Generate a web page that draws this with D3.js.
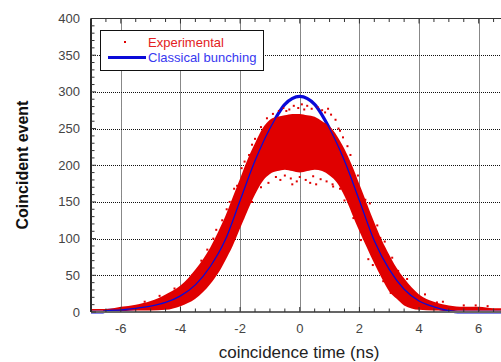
<!DOCTYPE html>
<html>
<head>
<meta charset="utf-8">
<script src="https://cdn.jsdelivr.net/npm/d3@7"></script>
<style>
body { margin: 0; background: #fff; }
#chart svg { display: block; font-family: "Liberation Sans", Arial, sans-serif; }
</style>
</head>
<body>
<div id="chart"></div>
<script>
"use strict";

// classical bunching curve
var fitTime  = [-7, -6.6, -6.5, -6, -5.5, -5, -4.5, -4, -3.5, -3, -2.5, -2, -1.5, -1, -0.5, 0, 0.5, 1, 1.5, 2, 2.5, 3, 3.5, 4, 4.5, 5, 5.3, 7];
var fitCount = [0, 0, 2, 3, 5, 8, 13, 22, 37, 62, 98, 152, 206, 250, 283, 294, 283, 250, 206, 152, 97, 58, 31, 15, 7, 2, 0, 0];

// experimental points: lower and upper edge of the dense cloud
var expTime = [-7, -6.5, -6, -5.5, -5, -4.5, -4, -3.5, -3, -2.75, -2.5, -2.25, -2, -1.75, -1.5, -1.25, -1, -0.75, -0.5, -0.25, 0,
               0.25, 0.5, 0.75, 1, 1.25, 1.5, 1.75, 2, 2.25, 2.5, 2.75, 3, 3.25, 3.5, 4, 4.5, 5, 5.5, 6, 6.5, 7];
var expLow  = [2, 2, 2, 2, 2, 3, 8, 18, 38, 52, 70, 90, 114, 138, 160, 178, 188, 192, 194, 192, 190,
               192, 194, 192, 186, 176, 158, 134, 110, 88, 66, 46, 28, 18, 9, 3, 2, 2, 2, 2, 2, 2];
var expHigh = [4, 4, 7, 10, 15, 24, 36, 58, 88, 108, 130, 156, 182, 208, 230, 250, 262, 266, 268, 270, 270,
               268, 266, 260, 253, 240, 222, 200, 174, 148, 122, 98, 78, 60, 46, 24, 14, 9, 7, 7, 5, 5];

// loose points outside the dense cloud [time, count]
var expStray = [
  [-0.9, 270], [-0.7, 274], [-0.55, 278], [-0.35, 276], [-0.2, 281], [-0.05, 278], [0.07, 283], [0.25, 281],
  [0.4, 277], [0.6, 279], [0.75, 275], [0.95, 277], [1.05, 269], [1.2, 262], [1.35, 247], [-1.1, 264],
  [-0.45, 274], [0.15, 276], [0.85, 272], [-0.8, 184], [-0.5, 186], [-0.3, 182], [0.0, 184], [0.2, 180],
  [0.45, 185], [0.7, 181], [0.9, 178], [-0.1, 178], [0.35, 176], [-0.65, 180], [-2.35, 150], [-2.1, 172],
  [-2.9, 100], [-3.3, 70], [-1.95, 196], [-1.7, 214], [-1.5, 236], [-2.6, 125], [1.6, 226], [2.2, 153],
  [2.7, 101], [2.95, 74], [1.45, 238], [3.3, 56], [1.12, 171], [1.5, 152], [2.05, 98], [2.3, 72],
  [3.9, 21], [5.9, 9], [4.6, 13],
  [-3.6, 50], [-3.1, 85], [-2.8, 112], [-2.45, 140], [-2.2, 168], [-1.85, 205], [-1.6, 228], [-1.3, 252],
  [-4.2, 32], [-4.7, 22], [-5.2, 14], [-3.2, 38], [-2.7, 62], [-2.4, 84], [-1.9, 128], [-1.6, 150],
  [-1.3, 170], [-3.7, 18], [1.3, 250], [1.7, 214], [1.95, 186], [2.35, 148], [2.6, 118], [2.85, 96],
  [3.1, 74], [3.6, 45], [4.2, 24], [4.8, 14], [5.5, 9], [6.3, 8], [1.35, 168], [1.8, 128],
  [2.15, 100], [2.45, 64], [2.8, 42], [3.05, 26], [-1.05, 176], [1.1, 174], [-0.25, 174], [0.55, 174]
];

var xTicks = [-6, -4, -2, 0, 2, 4, 6];
var yTicks = [0, 50, 100, 150, 200, 250, 300, 350, 400];

function init() {
    apply();
};
window.onload = init;

function apply() {
    var width = 501, height = 362;
    var left = 91, top = 18.5, bottom = 312, right = 508.5;

    const svg = d3.select("#chart")
                    .append("svg")
                    .attr("width", width)
                    .attr("height", height);

    var x = d3.scaleLinear().domain([-7, 7]).range([left, right]);
    var y = d3.scaleLinear().domain([0, 400]).range([bottom, top]);

    var xMinor = d3.range(-7, 7.01, 0.5).filter(d => xTicks.indexOf(d) < 0);
    var yMinor = d3.range(0, 401, 10).filter(d => yTicks.indexOf(d) < 0);

    // dotted grid
    var grid = svg.append("g").attr("stroke", "#111").attr("stroke-width", 1).attr("stroke-dasharray", "1,1");
    grid.selectAll(".gx").data(xTicks).join("line")
        .attr("x1", d => Math.round(x(d)) + 0.5).attr("x2", d => Math.round(x(d)) + 0.5)
        .attr("y1", top).attr("y2", bottom);
    grid.selectAll(".gy").data(yTicks.slice(1, -1)).join("line")
        .attr("y1", d => Math.round(y(d)) + 0.5).attr("y2", d => Math.round(y(d)) + 0.5)
        .attr("x1", left).attr("x2", right);

    var fit = fitTime.map((t, i) => [t, fitCount[i]]);
    var line = d3.line().x(d => x(d[0])).y(d => y(d[1])).curve(d3.curveMonotoneX);

    // thick classical curve below the points
    svg.append("path").datum(fit)
        .attr("d", line).attr("fill", "none")
        .attr("stroke", "#0a0ad8").attr("stroke-width", 3.2);

    // experimental cloud
    var band = expTime.map((t, i) => ({t: t, lo: expLow[i], hi: expHigh[i]}));
    var area = d3.area()
        .x(d => x(d.t)).y0(d => y(d.lo)).y1(d => y(d.hi))
        .curve(d3.curveMonotoneX);
    svg.append("path").datum(band)
        .attr("d", area).attr("fill", "#e00000");

    svg.append("g").selectAll("rect").data(expStray).join("rect")
        .attr("x", d => x(d[0]) - 1).attr("y", d => y(d[1]) - 1)
        .attr("width", 2).attr("height", 2).attr("fill", "#e00000");

    // thin curve on top, as it shows through the points
    svg.append("path").datum(fit)
        .attr("d", line).attr("fill", "none")
        .attr("stroke", "#0a0ad8").attr("stroke-width", 1.3);

    // frame
    svg.append("line").attr("x1", left).attr("x2", right).attr("y1", top).attr("y2", top)
        .attr("stroke", "#333").attr("stroke-width", 1.2);
    svg.append("line").attr("x1", left).attr("x2", right).attr("y1", bottom).attr("y2", bottom)
        .attr("stroke", "#666").attr("stroke-width", 1.8);
    svg.append("line").attr("x1", left).attr("x2", left).attr("y1", top).attr("y2", bottom)
        .attr("stroke", "#111").attr("stroke-width", 1.8);

    // inward ticks, bottom and top
    var tk = svg.append("g").attr("stroke", "#333").attr("stroke-width", 1);
    [[xTicks, 5], [xMinor, 3.5]].forEach(function(p) {
        tk.append("g").selectAll("line").data(p[0]).join("line")
            .attr("x1", d => x(d)).attr("x2", d => x(d))
            .attr("y1", bottom).attr("y2", bottom - p[1]);
        tk.append("g").selectAll("line").data(p[0]).join("line")
            .attr("x1", d => x(d)).attr("x2", d => x(d))
            .attr("y1", top).attr("y2", top + p[1]);
    });
    [[yTicks, 5], [yMinor, 3.5]].forEach(function(p) {
        tk.append("g").selectAll("line").data(p[0]).join("line")
            .attr("y1", d => y(d)).attr("y2", d => y(d))
            .attr("x1", left).attr("x2", left + p[1]);
    });

    // tick labels
    svg.append("g").selectAll("text").data(xTicks).join("text")
        .attr("x", d => x(d)).attr("y", 333)
        .attr("text-anchor", "middle").attr("font-size", 13).attr("fill", "#444")
        .text(d => d);
    svg.append("g").selectAll("text").data(yTicks).join("text")
        .attr("x", 80).attr("y", d => y(d) + 4.5)
        .attr("text-anchor", "end").attr("font-size", 13).attr("fill", "#444")
        .text(d => d);

    // axis titles
    svg.append("text")
        .attr("transform", "translate(28,165) rotate(-90)")
        .attr("text-anchor", "middle").attr("font-size", 16).attr("font-weight", "bold")
        .attr("fill", "#111")
        .text("Coincident event");
    svg.append("text")
        .attr("x", 299).attr("y", 357.5)
        .attr("text-anchor", "middle").attr("font-size", 17).attr("fill", "#222")
        .text("coincidence time (ns)");

    // legend
    var lg = svg.append("g");
    lg.append("rect").attr("x", 100.5).attr("y", 30.5).attr("width", 163).attr("height", 40)
        .attr("fill", "#fff").attr("stroke", "#111").attr("stroke-width", 1);
    lg.append("rect").attr("x", 124).attr("y", 41).attr("width", 2).attr("height", 2).attr("fill", "#e00000");
    lg.append("text").attr("x", 148).attr("y", 46.5).attr("font-size", 13).attr("fill", "#e32222")
        .text("Experimental");
    lg.append("line").attr("x1", 108).attr("x2", 146).attr("y1", 57.5).attr("y2", 57.5)
        .attr("stroke", "#0a0ad8").attr("stroke-width", 3);
    lg.append("text").attr("x", 148).attr("y", 61.5).attr("font-size", 13).attr("fill", "#3838f0")
        .text("Classical bunching");
};
</script>
</body>
</html>
